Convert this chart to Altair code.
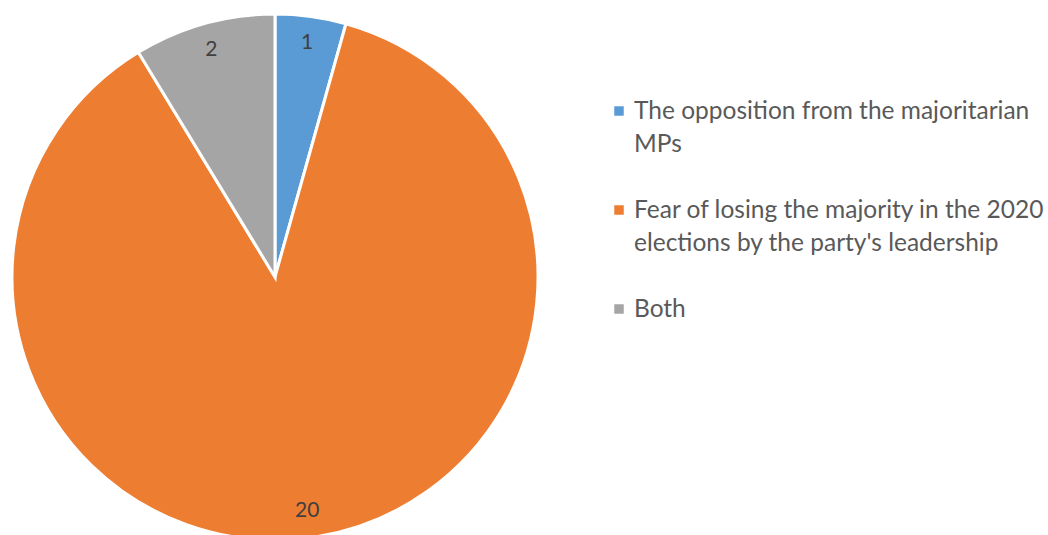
import altair as alt
import pandas as pd

categories = [
    "The opposition from the majoritarian MPs",
    "Fear of losing the majority in the 2020 elections by the party's leadership",
    "Both",
]
legend_lines = [
    "The opposition from the majoritarian\nMPs",
    "Fear of losing the majority in the 2020\nelections by the party's leadership",
    "Both",
]
values = [1, 20, 2]
colors = ["#5B9BD5", "#ED7D31", "#A5A5A5"]

df = pd.DataFrame({
    "category": categories,
    "value": values,
    "order": [0, 1, 2],
    "legend": legend_lines,
    "row": [0, 1, 2],
})

color = alt.Color("category:N", scale=alt.Scale(domain=categories, range=colors), legend=None)

base = alt.Chart(df).encode(
    theta=alt.Theta("value:Q", stack=True),
    order=alt.Order("order:Q"),
    x=alt.value(275),
    y=alt.value(277),
)

pie = base.mark_arc(radius=263, stroke="white", strokeWidth=3).encode(color=color)
labels = base.mark_text(radius=236, font="Lato", fontSize=21, color="#404040").encode(
    text=alt.Text("value:Q")
)

yscale = alt.Scale(domain=[0, 2], range=[111, 309])
leg_sq = alt.Chart(df).mark_square(size=90, opacity=1).encode(
    x=alt.value(619),
    y=alt.Y("row:Q", scale=yscale, axis=None),
    color=color,
)
leg_txt = alt.Chart(df).mark_text(
    align="left", baseline="alphabetic", dy=8, font="Lato", fontSize=24.5,
    color="#595959", lineBreak="\n", lineHeight=33,
).encode(
    x=alt.value(634),
    y=alt.Y("row:Q", scale=yscale, axis=None),
    text="legend:N",
)

chart = alt.layer(pie, labels, leg_sq, leg_txt).properties(
    width=1048, height=535, padding=0, autosize=alt.AutoSizeParams(type="none")
).configure_view(stroke=None)

chart.save("out.html", embed_options={"renderer": "svg", "actions": False})
